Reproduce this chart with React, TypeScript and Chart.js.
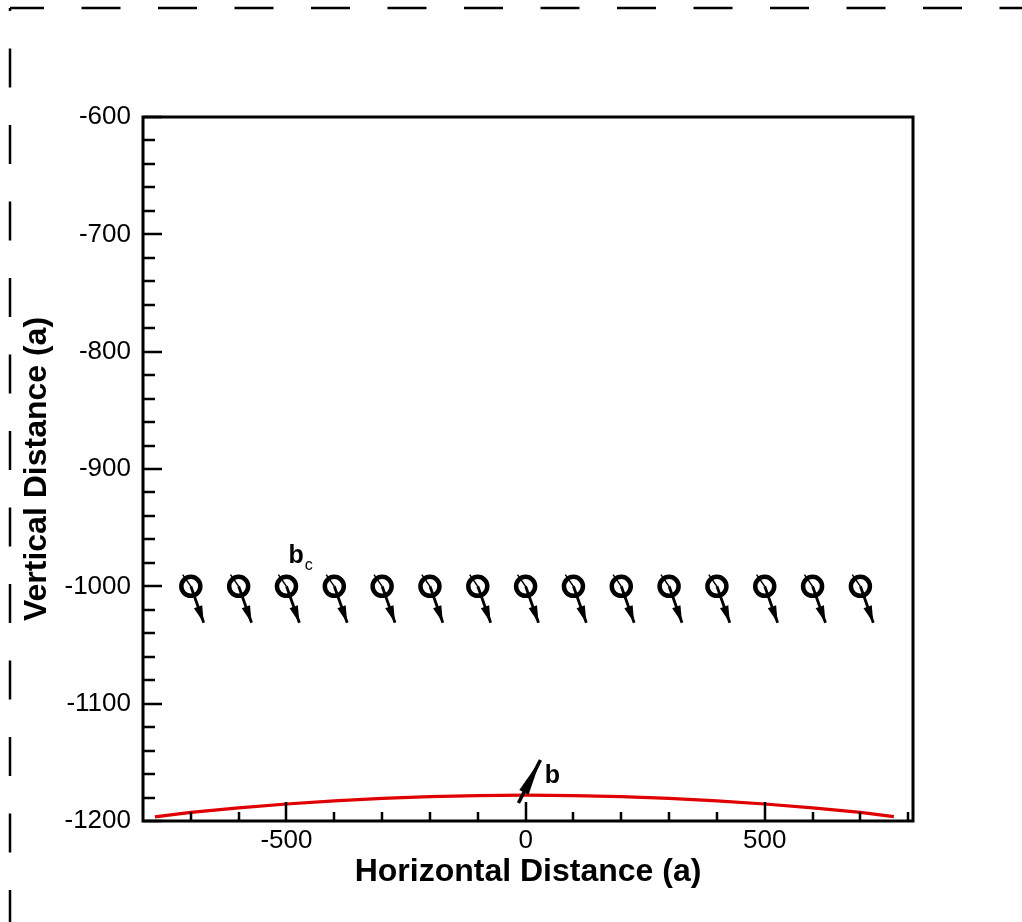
import React, { useEffect, useRef } from "react";
import { Chart, registerables } from "chart.js";

Chart.register(...registerables);

// ---- axis ranges & ticks ----
const X_MIN = -800;
const X_MAX = 810;
const Y_MIN = -1200;
const Y_MAX = -600;
const xMajorTicks = [-500, 0, 500];
const xMinorTicks = [-700, -600, -400, -300, -200, -100, 100, 200, 300, 400, 600, 700, 800];
const yMajorTicks = [-1200, -1100, -1000, -900, -800, -700, -600];
const yMinorTicks = [
  -1180, -1160, -1140, -1120, -1080, -1060, -1040, -1020, -980, -960, -940, -920,
  -880, -860, -840, -820, -780, -760, -740, -720, -680, -660, -640, -620,
];

// ---- surface (red curve) ----
const surfaceX = [-775, -700, -600, -500, -400, -300, -200, -100, 0, 100, 200, 300, 400, 500, 600, 700, 770];
const surfaceY = [
  -1196.5, -1192.7, -1188.8, -1185.5, -1182.8, -1180.7, -1179.2, -1178.3, -1178,
  -1178.3, -1179.2, -1180.7, -1182.8, -1185.5, -1188.8, -1192.7, -1196.3,
];

// ---- observation points (circles) and their vectors ----
const obsX = [-700, -600, -500, -400, -300, -200, -100, 0, 100, 200, 300, 400, 500, 600, 700];
const obsY = [-1000, -1000, -1000, -1000, -1000, -1000, -1000, -1000, -1000, -1000, -1000, -1000, -1000, -1000, -1000];
const arrowU = [27, 27, 27, 27, 27, 27, 27, 27, 27, 27, 27, 27, 27, 27, 27];
const arrowV = [-31, -31, -31, -31, -31, -31, -31, -31, -31, -31, -31, -31, -31, -31, -31];
const tailU = [-17, -17, -17, -17, -17, -17, -17, -17, -17, -17, -17, -17, -17, -17, -17];
const tailV = [10, 10, 10, 10, 10, 10, 10, 10, 10, 10, 10, 10, 10, 10, 10];

// ---- source vector b ----
const bFrom = [-15, -1184.7];
const bTo = [31, -1148];

// ---- text labels ----
const labelText = ["b", "b"];
const labelSub = ["c", ""];
const labelX = [-496, 40];
const labelY = [-980, -1167.6];

const FONT = "'Liberation Sans', Arial, Helvetica, sans-serif";

const overlayPlugin = {
  id: "overlay",
  beforeDatasetsDraw(chart: any) {
    const { ctx, scales } = chart;
    const xs = scales.x;
    const ys = scales.y;
    ctx.save();
    ctx.strokeStyle = "#000";
    ctx.fillStyle = "#000";
    for (let i = 0; i < obsX.length; i++) {
      const cx = xs.getPixelForValue(obsX[i]);
      const cy = ys.getPixelForValue(obsY[i]);
      const tx = xs.getPixelForValue(obsX[i] + arrowU[i]);
      const ty = ys.getPixelForValue(obsY[i] + arrowV[i]);
      const bx = xs.getPixelForValue(obsX[i] + tailU[i]);
      const by = ys.getPixelForValue(obsY[i] + tailV[i]);
      // thin tail
      ctx.lineWidth = 1.5;
      ctx.beginPath();
      ctx.moveTo(bx, by);
      ctx.lineTo(cx, cy);
      ctx.stroke();
      // shaft
      ctx.lineWidth = 2.8;
      ctx.beginPath();
      ctx.moveTo(cx, cy);
      ctx.lineTo(tx, ty);
      ctx.stroke();
      // head
      const ang = Math.atan2(ty - cy, tx - cx);
      const len = 17;
      const hw = 4.4;
      const px = tx - len * Math.cos(ang);
      const py = ty - len * Math.sin(ang);
      ctx.beginPath();
      ctx.moveTo(tx, ty);
      ctx.lineTo(px + hw * Math.sin(ang), py - hw * Math.cos(ang));
      ctx.lineTo(px - hw * Math.sin(ang), py + hw * Math.cos(ang));
      ctx.closePath();
      ctx.fill();
    }
    ctx.restore();
  },
  afterDatasetsDraw(chart: any) {
    const { ctx, scales } = chart;
    const xs = scales.x;
    const ys = scales.y;
    ctx.save();
    ctx.strokeStyle = "#000";
    ctx.fillStyle = "#000";
    // vector b
    const sx = xs.getPixelForValue(bFrom[0]);
    const sy = ys.getPixelForValue(bFrom[1]);
    const ex = xs.getPixelForValue(bTo[0]);
    const ey = ys.getPixelForValue(bTo[1]);
    ctx.lineWidth = 3.5;
    ctx.beginPath();
    ctx.moveTo(sx, sy);
    ctx.lineTo(ex, ey);
    ctx.stroke();
    const ang = Math.atan2(ey - sy, ex - sx);
    const total = Math.hypot(ex - sx, ey - sy);
    const len = total * 0.75;
    const hw = 5.2;
    const px = ex - len * Math.cos(ang);
    const py = ey - len * Math.sin(ang);
    ctx.beginPath();
    ctx.moveTo(ex, ey);
    ctx.lineTo(px + hw * Math.sin(ang), py - hw * Math.cos(ang));
    ctx.lineTo(px - hw * Math.sin(ang), py + hw * Math.cos(ang));
    ctx.closePath();
    ctx.fill();

    // labels
    ctx.textBaseline = "alphabetic";
    ctx.textAlign = "left";
    for (let i = 0; i < labelText.length; i++) {
      const lx = xs.getPixelForValue(labelX[i]);
      const ly = ys.getPixelForValue(labelY[i]);
      ctx.font = `bold 25px ${FONT}`;
      ctx.fillText(labelText[i], lx, ly);
      if (labelSub[i]) {
        const w = ctx.measureText(labelText[i]).width;
        ctx.font = `16px ${FONT}`;
        ctx.fillText(labelSub[i], lx + w + 1, ly + 7);
      }
    }
    ctx.restore();
  },
  afterDraw(chart: any) {
    const { ctx, chartArea, scales } = chart;
    const { left, right, top, bottom } = chartArea;
    const xs = scales.x;
    const ys = scales.y;
    ctx.save();
    ctx.strokeStyle = "#000";
    // ticks
    ctx.lineWidth = 2.5;
    ctx.beginPath();
    for (const v of xMajorTicks) {
      const x = Math.round(xs.getPixelForValue(v));
      ctx.moveTo(x, bottom);
      ctx.lineTo(x, bottom - 19);
    }
    for (const v of xMinorTicks) {
      const x = Math.round(xs.getPixelForValue(v));
      ctx.moveTo(x, bottom);
      ctx.lineTo(x, bottom - 9);
    }
    for (const v of yMajorTicks) {
      const y = Math.round(ys.getPixelForValue(v));
      ctx.moveTo(left, y);
      ctx.lineTo(left + 19, y);
    }
    for (const v of yMinorTicks) {
      const y = Math.round(ys.getPixelForValue(v));
      ctx.moveTo(left, y);
      ctx.lineTo(left + 12, y);
    }
    ctx.stroke();
    // frame
    ctx.lineWidth = 3;
    ctx.strokeRect(left, top, right - left, bottom - top);

    // outer dashed frame
    ctx.lineWidth = 2.5;
    ctx.setLineDash([39, 37.5]);
    ctx.lineDashOffset = 5;
    ctx.beginPath();
    ctx.moveTo(10, 8);
    ctx.lineTo(1030, 8);
    ctx.stroke();
    ctx.lineDashOffset = 36;
    ctx.beginPath();
    ctx.moveTo(10, 8);
    ctx.lineTo(10, 930);
    ctx.stroke();
    ctx.restore();
  },
};

export default function App() {
  const ref = useRef<HTMLCanvasElement | null>(null);
  useEffect(() => {
    if (!ref.current) return;
    const chart = new Chart(ref.current, {
      type: "scatter",
      data: {
        datasets: [
          {
            type: "line",
            label: "surface",
            data: surfaceX.map((x, i) => ({ x, y: surfaceY[i] })),
            borderColor: "#e00000",
            borderWidth: 3.2,
            pointRadius: 0,
            tension: 0,
            fill: false,
          } as any,
          {
            type: "scatter",
            label: "observations",
            data: obsX.map((x, i) => ({ x, y: obsY[i] })),
            pointStyle: "circle",
            pointRadius: 9.5,
            borderWidth: 4.5,
            borderColor: "#000",
            backgroundColor: "rgba(0,0,0,0)",
          },
        ],
      },
      options: {
        animation: false,
        responsive: false,
        devicePixelRatio: 1,
        layout: { padding: { top: 117, right: 109, left: 0, bottom: 0 } },
        plugins: { legend: { display: false }, tooltip: { enabled: false } },
        scales: {
          x: {
            type: "linear",
            min: X_MIN,
            max: X_MAX,
            grid: { display: false, drawTicks: false },
            border: { display: false },
            afterBuildTicks: (s: any) => {
              s.ticks = xMajorTicks.map((v) => ({ value: v }));
            },
            afterFit: (s: any) => {
              s.height = 101;
            },
            ticks: {
              color: "#000",
              font: { family: FONT, size: 26 },
              padding: 4,
              maxRotation: 0,
              autoSkip: false,
              callback: (v: any) => String(v),
            },
            title: {
              display: true,
              text: "Horizontal Distance (a)",
              color: "#000",
              font: { family: FONT, size: 32, weight: "bold" },
              padding: { top: 0, bottom: 31 },
            },
          },
          y: {
            type: "linear",
            min: Y_MIN,
            max: Y_MAX,
            grid: { display: false, drawTicks: false },
            border: { display: false },
            afterBuildTicks: (s: any) => {
              s.ticks = yMajorTicks.map((v) => ({ value: v }));
            },
            afterFit: (s: any) => {
              s.width = 143;
            },
            ticks: {
              color: "#000",
              font: { family: FONT, size: 26 },
              padding: 12,
              autoSkip: false,
              callback: (v: any) => String(v),
            },
            title: {
              display: true,
              text: "Vertical Distance (a)",
              color: "#000",
              font: { family: FONT, size: 32, weight: "bold" },
              padding: { top: 18, bottom: 0 },
            },
          },
        },
      },
      plugins: [overlayPlugin],
    });
    return () => chart.destroy();
  }, []);
  return (
    <div style={{ position: "absolute", left: 0, top: 0, width: 1022, height: 922, background: "#fff" }}>
      <canvas ref={ref} width={1022} height={922} style={{ display: "block" }} />
    </div>
  );
}
